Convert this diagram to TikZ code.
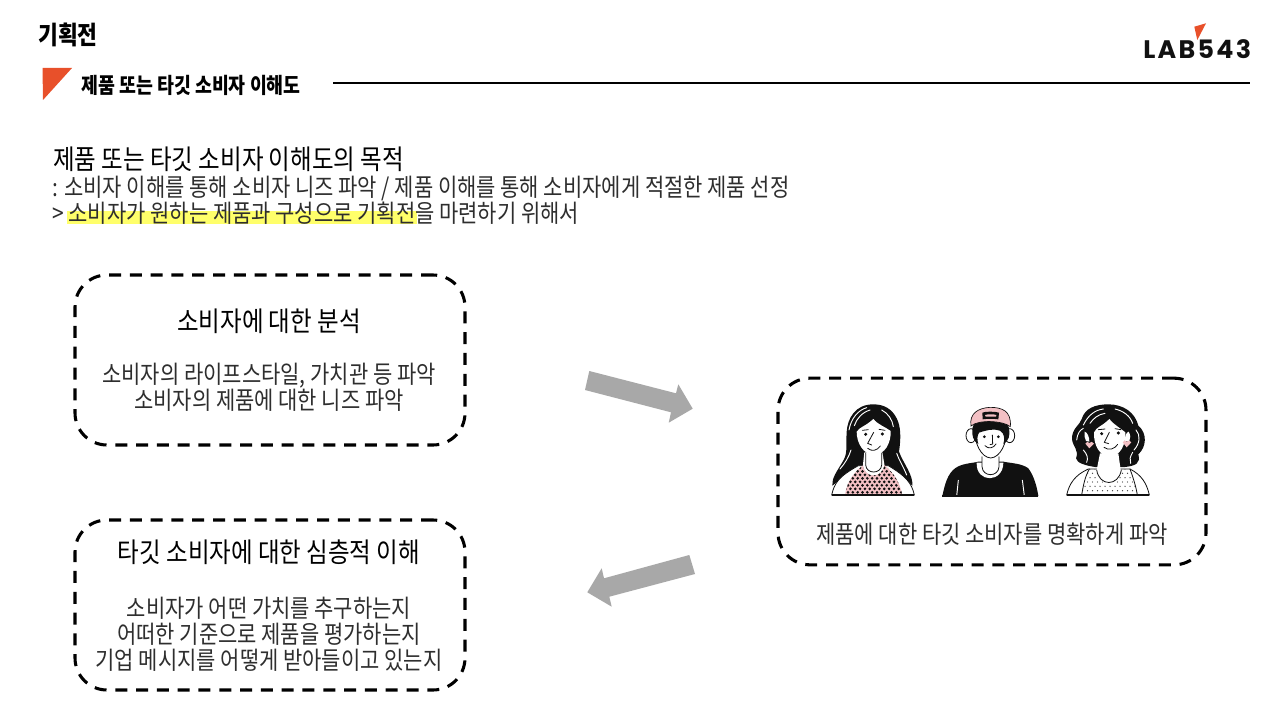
\documentclass[tikz,border=0pt]{standalone}
\usepackage{fontspec}
\setmainfont{Noto Sans CJK KR}
\newfontfamily\kr[FakeStretch=0.85]{Noto Sans CJK KR}
\newfontfamily\krh[FakeStretch=0.86]{Noto Sans CJK KR}
\newfontfamily\logofont[LetterSpace=9]{Poppins}
\definecolor{lred}{HTML}{E8502A}
\definecolor{agrey}{HTML}{A8A8A8}
\definecolor{hl}{HTML}{FFFF6A}
\definecolor{ppink}{HTML}{F3C0C4}
\definecolor{ink}{HTML}{111111}
\definecolor{soft}{HTML}{2E2E2E}
\tikzset{
 dashbox/.style={draw=black,line width=2.3pt,rounded corners=24pt,dash pattern=on 9pt off 6.6pt,minimum width=292.5pt,inner sep=0pt},
 bodytxt/.style={font=\kr\fontsize{18.5}{18.5}\selectfont,text=soft,inner sep=0pt,anchor=center,text height=15pt,text depth=1pt},
 headtxt/.style={font=\krh\fontsize{20.5}{20.5}\selectfont,text=black,inner sep=0pt,anchor=center,text height=16pt,text depth=.4pt},
 boldtxt/.style={font=\kr\bfseries,text=black,inner sep=0pt,anchor=west},
 blockarrow/.style={fill=agrey,draw=none},
 hair/.style={fill=ink,draw=none},
 skin/.style={fill=white,draw=ink,line width=.6pt},
 gloss/.style={draw=white,line width=.7pt,line cap=round},
 thin/.style={draw=ink,line width=.6pt,line cap=round},
 person/.style={x=.25pt,y=-.25pt}
}
\begin{document}
\begin{tikzpicture}[x=.75pt,y=-.75pt]
\useasboundingbox (0,0) rectangle (1280,720);
\fill[white] (0,0) rectangle (1280,720);

% header
\node[boldtxt,font=\kr\bfseries\fontsize{19}{19}\selectfont] (hd) at (38,35) {기획전};
\fill[lred] (42.5,68) -- (72,68) -- (43,100) -- cycle;
\node[boldtxt,font=\kr\bfseries\fontsize{16.2}{16.2}\selectfont] (sub) at (81,85) {제품 또는 타깃 소비자 이해도};
\coordinate (ruleA) at (333,83);
\coordinate (ruleB) at (1250,83);
\draw[black,line width=.9pt] (ruleA) -- (ruleB);

% logo
\node[inner sep=0pt,anchor=west,text=ink,font=\logofont\bfseries\fontsize{19}{19}\selectfont] (logo) at (1143,49.5) {LAB543};
\fill[lred] (1206,23.3) -- (1194.3,26.7) -- (1197.3,40) -- cycle;

% intro
\fill[hl] (67,211) rectangle (417,224.5);
\node[headtxt,anchor=west] (t1) at (53,159) {제품 또는 타깃 소비자 이해도의 목적};
\node[bodytxt,anchor=west] (t2) at (52,187) {: 소비자 이해를 통해 소비자 니즈 파악 / 제품 이해를 통해 소비자에게 적절한 제품 선정};
\node[bodytxt,anchor=west] (t3) at (52,213) {> 소비자가 원하는 제품과 구성으로 기획전을 마련하기 위해서};

% boxes
\node[dashbox,minimum height=127.5pt] (b1) at (270,360) {};
\node[dashbox,minimum height=127.5pt] (b2) at (270,605) {};
\node[dashbox,minimum width=321pt,minimum height=140pt] (b3) at (992,471.5) {};

\node[headtxt] (b1t) at (269,321) {소비자에 대한 분석};
\node[bodytxt] (b1a) at (269,374) {소비자의 라이프스타일, 가치관 등 파악};
\node[bodytxt] (b1b) at (269,400) {소비자의 제품에 대한 니즈 파악};

\node[headtxt] (b2t) at (269,552) {타깃 소비자에 대한 심층적 이해};
\node[bodytxt] (b2a) at (269,608) {소비자가 어떤 가치를 추구하는지};
\node[bodytxt] (b2b) at (269,634) {어떠한 기준으로 제품을 평가하는지};
\node[bodytxt] (b2c) at (269,660) {기업 메시지를 어떻게 받아들이고 있는지};

\node[bodytxt] (b3t) at (992,534) {제품에 대한 타깃 소비자를 명확하게 파악};

% block arrows
\fill[blockarrow] (589.3,371) -- (676,393.3) -- (678.3,384.3) -- (692.7,408.7) -- (668.7,422.7) -- (671,412.3) -- (585,390) -- cycle;
\fill[blockarrow] (689.3,555) -- (695,574) -- (609.3,596.7) -- (611.7,606.7) -- (587.3,592.3) -- (601.7,568.3) -- (604,578.3) -- cycle;

% person 1
\begin{scope}[shift={(825,395)},person]
 \fill[hair] (145,28) .. controls (90,28) and (68,70) .. (65,110)
   .. controls (62,160) and (70,175) .. (50,205)
   .. controls (35,230) and (20,250) .. (22,272)
   .. controls (50,250) and (70,235) .. (95,222) -- (195,222)
   .. controls (225,240) and (245,255) .. (262,272)
   .. controls (265,240) and (235,205) .. (222,170)
   .. controls (228,130) and (228,95) .. (215,70)
   .. controls (200,40) and (175,28) .. (145,28) -- cycle;
 \path[skin] (20,300) .. controls (28,265) and (40,245) .. (100,212) -- (190,212) .. controls (245,245) and (260,265) .. (268,300) -- cycle;
 \begin{scope}
  \clip (60,300) .. controls (65,270) and (75,240) .. (118,208) -- (175,208) .. controls (215,240) and (225,270) .. (232,300) -- cycle;
  \fill[ppink] (40,200) rectangle (250,300);
  \foreach \r in {0,...,9}{\foreach \c in {0,...,15}{
    \pgfmathsetmacro\dx{40+\c*14.5+mod(\r,2)*7.25}
    \pgfmathsetmacro\dy{208+\r*10.5}
    \fill[ink] (\dx,\dy) circle[radius=4.4];}}
 \end{scope}
 \draw[ink,line width=.9pt] (20,300) -- (268,300);
 \fill[white] (118,172) -- (172,172) -- (178,208) .. controls (172,252) and (118,252) .. (114,208) -- cycle;
 \draw[thin] (122,175) -- (122,210) .. controls (124,238) and (168,238) .. (170,210) -- (170,175);
 \path[skin,draw=none] (145,72) .. controls (120,95) and (105,95) .. (95,110) .. controls (95,145) and (115,178) .. (147,180) .. controls (180,178) and (198,145) .. (197,108) .. controls (180,95) and (160,90) .. (145,72) -- cycle;
 \draw[gloss] (72,105) .. controls (78,70) and (100,45) .. (125,38);
 \draw[gloss] (88,92) .. controls (95,70) and (112,52) .. (135,45);
 \draw[gloss] (205,95) .. controls (202,75) and (190,55) .. (170,45);
 \draw[gloss] (45,222) .. controls (60,205) and (72,185) .. (78,165);
 \draw[gloss] (245,240) .. controls (235,215) and (222,195) .. (215,175);
 \fill[ink] (122,118) circle[radius=5];
 \fill[ink] (172,117) circle[radius=5];
 \draw[thin] (112,106) -- (130,104) (162,103) -- (180,106);
 \draw[thin] (146,112) -- (128,145) -- (140,150);
 \draw[thin] (128,160) .. controls (140,170) and (155,168) .. (166,153);
\end{scope}

% person 2
\begin{scope}[shift={(935,400)},person]
 \fill[hair] (22,288) .. controls (30,250) and (38,222) .. (60,205) .. controls (80,190) and (110,190) .. (130,185) -- (205,185) .. controls (230,190) and (260,190) .. (280,205) .. controls (295,225) and (305,255) .. (310,288) -- cycle;
 \fill[white] (125,188) .. controls (122,250) and (205,250) .. (205,188) -- cycle;
 \fill[white] (140,165) rectangle (192,195);
 \draw[thin] (141,170) -- (141,200) .. controls (143,232) and (190,232) .. (192,200) -- (192,170);
 \draw[draw=white,line width=.7pt] (70,240) -- (65,288) (262,240) -- (268,288);
 \draw[draw=ink,line width=.9pt] (22,288) -- (310,288);
 \path[skin] (108,107) ellipse[x radius=15,y radius=21];
 \path[skin] (224,107) ellipse[x radius=15,y radius=21];
 \path[skin] (118,85) .. controls (118,130) and (138,172) .. (167,174) .. controls (196,172) and (216,130) .. (216,85) -- cycle;
 \fill[hair] (112,85) .. controls (112,65) and (140,55) .. (170,55) .. controls (200,55) and (222,65) .. (222,85)
   .. controls (226,105) and (222,122) .. (205,133) .. controls (210,115) and (208,100) .. (195,92)
   .. controls (175,84) and (150,92) .. (132,98) .. controls (126,108) and (126,120) .. (130,132)
   .. controls (114,124) and (110,105) .. (112,85) -- cycle;
 \path[fill=ppink,draw=ink,line width=.5pt] (108,78) .. controls (102,40) and (130,24) .. (165,22) .. controls (200,22) and (230,32) .. (226,80)
   .. controls (205,62) and (130,58) .. (108,78) -- cycle;
 \fill[ink] (142,38) .. controls (150,34) and (180,34) .. (192,38) -- (190,58) .. controls (175,56) and (155,56) .. (143,58) -- cycle;
 \fill[ppink] (150,45) .. controls (160,42) and (175,42) .. (184,45) -- (183,50) -- (152,50) -- cycle;
 \fill[ink] (148,110) circle[radius=4.5];
 \fill[ink] (190,110) circle[radius=4.5];
 \draw[thin] (172,105) -- (173,132) -- (165,134);
 \draw[thin] (150,137) .. controls (160,148) and (175,145) .. (183,132);
\end{scope}

% person 3
\begin{scope}[shift={(1050,395)},person]
 \fill[hair] (175,28) .. controls (135,28) and (105,40) .. (95,72) .. controls (90,90) and (65,100) .. (66,132)
   .. controls (68,155) and (88,165) .. (78,190) .. controls (80,205) and (110,212) .. (135,216) -- (225,216)
   .. controls (258,212) and (272,205) .. (265,178) .. controls (290,155) and (292,115) .. (265,92)
   .. controls (255,52) and (220,28) .. (175,28) -- cycle;
 \path[skin] (50,300) .. controls (58,265) and (75,240) .. (115,222) -- (240,222) .. controls (275,240) and (290,265) .. (298,300) -- cycle;
 \begin{scope}
  \clip (95,300) .. controls (100,270) and (105,245) .. (118,222) -- (240,222) .. controls (250,250) and (258,275) .. (262,300) -- cycle;
  \foreach \r in {0,...,6}{\foreach \c in {0,...,12}{
    \pgfmathsetmacro\dx{90+\c*15+mod(\r,2)*7.5}
    \pgfmathsetmacro\dy{222+\r*13}
    \fill[ink!80] (\dx,\dy) circle[radius=2];}}
 \end{scope}
 \draw[thin] (118,222) .. controls (105,245) and (100,270) .. (95,300) (240,222) .. controls (250,250) and (258,275) .. (262,300);
 \draw[ink,line width=.9pt] (50,300) -- (298,300);
 \fill[white] (150,175) -- (205,175) -- (212,225) .. controls (205,280) and (148,280) .. (140,225) -- cycle;
 \draw[thin] (140,225) .. controls (148,275) and (205,275) .. (214,225);
 \path[skin,draw=none] (178,72) .. controls (155,95) and (140,95) .. (132,112) .. controls (130,150) and (150,185) .. (180,186) .. controls (210,182) and (228,150) .. (226,112) .. controls (212,100) and (195,92) .. (178,72) -- cycle;
 \fill[white] (104,110) .. controls (112,112) and (118,125) .. (118,140) -- (108,138) .. controls (104,130) and (102,120) .. (104,110) -- cycle;
 \fill[white] (236,110) .. controls (228,112) and (224,125) .. (224,140) -- (238,138) .. controls (242,130) and (242,120) .. (236,110) -- cycle;
 \fill[ppink] (118,160) -- (106,146) .. controls (108,139) and (116,139) .. (118,144) .. controls (120,139) and (130,139) .. (132,146) -- cycle;
 \fill[ppink] (230,157) -- (218,142) .. controls (220,135) and (228,135) .. (230,140) .. controls (232,135) and (242,135) .. (244,142) -- cycle;
 \draw[gloss] (100,90) .. controls (115,60) and (135,45) .. (160,42);
 \draw[gloss] (120,85) .. controls (130,70) and (145,58) .. (165,55);
 \draw[gloss] (195,42) .. controls (220,48) and (240,62) .. (248,85);
 \draw[gloss] (80,135) .. controls (82,115) and (90,105) .. (100,100);
 \draw[gloss] (258,105) .. controls (272,120) and (270,145) .. (252,165);
 \draw[gloss] (100,165) .. controls (112,178) and (115,190) .. (110,202);
 \draw[gloss] (248,172) .. controls (240,185) and (238,195) .. (242,205);
 \fill[ink] (155,116) circle[radius=5];
 \fill[ink] (205,114) circle[radius=5];
 \draw[thin] (145,104) -- (165,102) (195,101) -- (213,104);
 \draw[thin] (178,112) -- (163,142) -- (176,146);
 \draw[thin] (162,157) .. controls (175,168) and (195,162) .. (203,148);
\end{scope}
\end{tikzpicture}
\end{document}
